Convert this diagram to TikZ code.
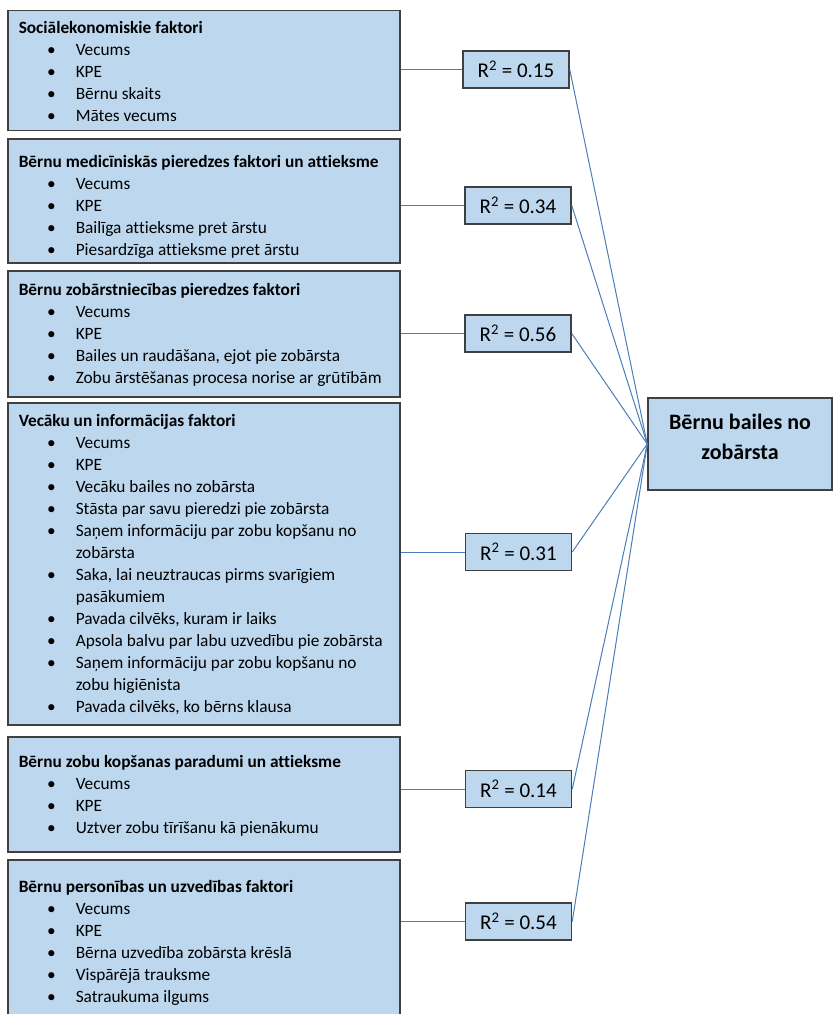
\documentclass[tikz,border=0pt]{standalone}
\usepackage{fontspec}
\setmainfont{Carlito}[Ligatures=NoCommon]
\usepackage{enumitem}
\usepackage{xcolor}
\definecolor{boxfill}{HTML}{BDD7EE}
\definecolor{boxline}{HTML}{404040}
\definecolor{lineblue}{HTML}{4A7EBB}
\setlist[itemize]{label=\textbullet, leftmargin=57pt, labelsep=20pt, topsep=0pt, partopsep=0pt, itemsep=0pt, parsep=0pt}
\newcommand{\factorlist}[4]{\parbox[c][#1pt][t]{370pt}{\raggedright\fontsize{17.3}{22}\selectfont\vspace*{#2pt}\strut\textbf{#3}\begin{itemize}#4\end{itemize}}}

\begin{document}
\begin{tikzpicture}[x=1pt,y=-1pt,
    factor/.style={draw=boxline,fill=boxfill,line width=1.5pt,anchor=north west,inner xsep=11pt,inner ysep=0pt},
    rbox/.style={draw=boxline,fill=boxfill,line width=1.5pt,minimum width=106pt,minimum height=37pt,inner sep=0pt,font=\fontsize{21}{25}\selectfont},
    target/.style={draw=boxline,fill=boxfill,line width=1.5pt,minimum width=184pt,minimum height=92pt,align=center,inner sep=0pt,font=\fontsize{22}{30}\selectfont\bfseries},
    rline/.style={draw=lineblue,line width=1pt}]
    \clip (0,0) rectangle (833,1014);
    \node[factor] (f1) at (7,10) {\factorlist{120}{7.6}{Sociālekonomiskie faktori}{\item Vecums \item KPE \item Bērnu skaits \item Mātes vecums}};
    \node[factor] (f2) at (7,138) {\factorlist{124}{13.6}{Bērnu medicīniskās pieredzes faktori un attieksme}{\item Vecums \item KPE \item Bailīga attieksme pret ārstu \item Piesardzīga attieksme pret ārstu}};
    \node[factor] (f3) at (7,270) {\factorlist{126}{9.6}{Bērnu zobārstniecības pieredzes faktori}{\item Vecums \item KPE \item Bailes un raudāšana, ejot pie zobārsta \item Zobu ārstēšanas procesa norise ar grūtībām}};
    \node[factor] (f4) at (7,402) {\factorlist{322}{8.6}{Vecāku un informācijas faktori}{\item Vecums \item KPE \item Vecāku bailes no zobārsta \item Stāsta par savu pieredzi pie zobārsta \item Saņem informāciju par zobu kopšanu no zobārsta \item Saka, lai neuztraucas pirms svarīgiem pasākumiem \item Pavada cilvēks, kuram ir laiks \item Apsola balvu par labu uzvedību pie zobārsta \item Saņem informāciju par zobu kopšanu no zobu higiēnista \item Pavada cilvēks, ko bērns klausa}};
    \node[factor] (f5) at (7,736) {\factorlist{115}{15.6}{Bērnu zobu kopšanas paradumi un attieksme}{\item Vecums \item KPE \item Uztver zobu tīrīšanu kā pienākumu}};
    \node[factor] (f6) at (7,859) {\factorlist{170}{17.6}{Bērnu personības un uzvedības faktori}{\item Vecums \item KPE \item Bērna uzvedība zobārsta krēslā \item Vispārējā trauksme \item Satraukuma ilgums}};

    \node[rbox] (r1) at (516,69.5) {R\textsuperscript{2} = 0.15};
    \node[rbox] (r2) at (518,205.5) {R\textsuperscript{2} = 0.34};
    \node[rbox] (r3) at (518,333.5) {R\textsuperscript{2} = 0.56};
    \node[rbox] (r4) at (518.5,552) {R\textsuperscript{2} = 0.31};
    \node[rbox] (r5) at (518.5,789) {R\textsuperscript{2} = 0.14};
    \node[rbox] (r6) at (518.5,921.5) {R\textsuperscript{2} = 0.54};

    \node[target] (fear) at (740,444) {Bērnu bailes no\\zobārsta\rule[-14pt]{0pt}{14pt}};

    \foreach \i in {1,...,6} {
        \draw[rline] (f\i.east |- r\i) -- (r\i.west);
        \draw[rline] (r\i.east) -- (fear.west);
    }
\end{tikzpicture}
\end{document}
